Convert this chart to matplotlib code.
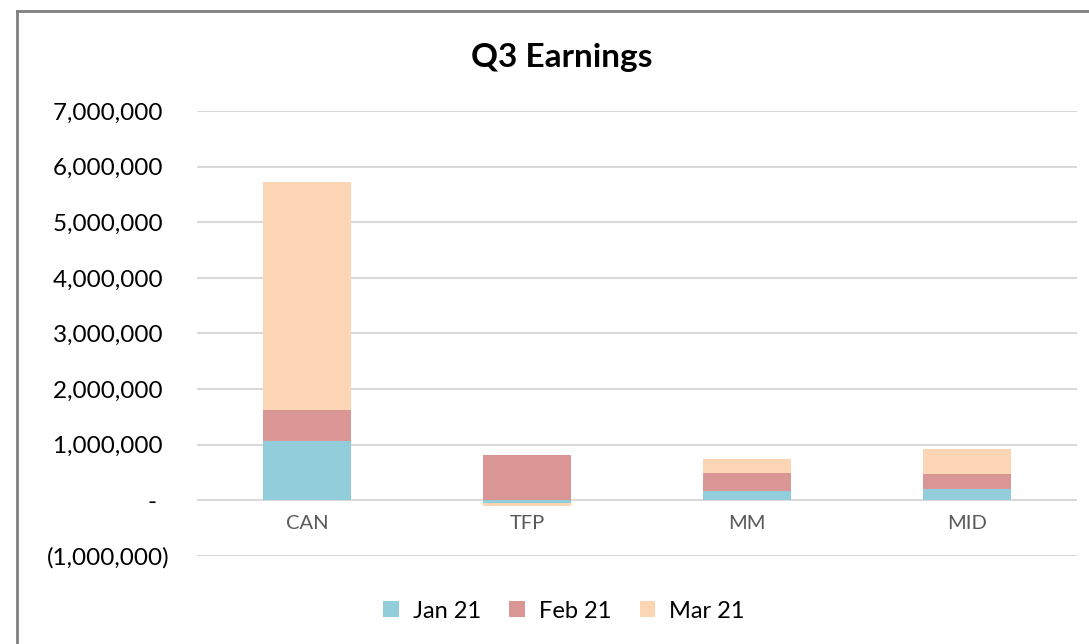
import numpy as np
import matplotlib
matplotlib.use("Agg")
import matplotlib.pyplot as plt
from matplotlib.lines import Line2D

plt.rcParams['font.family'] = ['Lato', 'DejaVu Sans']

categories = ["CAN", "TFP", "MM", "MID"]
series_names = ["Jan 21", "Feb 21", "Mar 21"]
jan = [1060000, -40000, 160000, 200000]
feb = [560000, 810000, 340000, 270000]
mar = [4100000, -70000, 250000, 450000]
colors = ["#92CDDC", "#DA9694", "#FCD5B4"]
yticks = [-1000000, 0, 1000000, 2000000, 3000000, 4000000, 5000000, 6000000, 7000000]


def fmt(v):
    # accounting style like the spreadsheet
    if v == 0:
        return "-  "
    if v < 0:
        return "(%s)" % format(-v, ",d")
    return format(v, ",d") + " "


fig = plt.figure(figsize=(10.89, 6.44), dpi=100)
ax = fig.add_axes([197 / 1089, 1 - 556 / 644, 880 / 1089, 445 / 644])

x = np.arange(len(categories))
pos_bottom = np.zeros(len(categories))
neg_bottom = np.zeros(len(categories))
for name, vals, c in zip(series_names, [jan, feb, mar], colors):
    vals = np.array(vals, dtype=float)
    bottom = np.where(vals >= 0, pos_bottom, neg_bottom)
    ax.bar(x, vals, 0.4, bottom=bottom, color=c, label=name, zorder=3)
    pos_bottom = pos_bottom + np.where(vals >= 0, vals, 0)
    neg_bottom = neg_bottom + np.where(vals < 0, vals, 0)

ax.set_xlim(-0.5, len(categories) - 0.5)
ax.set_ylim(-1000000, 7000000)
ax.set_yticks(yticks)
ax.set_yticklabels([fmt(v) for v in yticks], fontsize=17.5, color="black")
ax.yaxis.grid(True, color="#D9D9D9", linewidth=1.5, zorder=0)
ax.tick_params(axis="y", length=0, pad=20)
ax.tick_params(axis="x", length=0, pad=0)
for s in ax.spines.values():
    s.set_visible(False)

# category labels sit just below the zero line
ax.set_xticks([])
for xi, cat in zip(x, categories):
    ax.text(xi, -420000, cat, ha="center", va="center", fontsize=14.5, color="#595959")

fig.text(562 / 1089, 1 - 58 / 644, "Q3 Earnings", ha="center", va="center",
         fontsize=24, fontweight="bold")

handles, labels = ax.get_legend_handles_labels()
fig.legend(handles, labels, loc="center", bbox_to_anchor=(564 / 1089, 1 - 611 / 644),
           ncol=3, frameon=False, fontsize=17, handlelength=0.65, handleheight=0.65,
           columnspacing=1.2, handletextpad=0.6)

# chart area border (top and left edges visible)
fig.add_artist(Line2D([16.5 / 1089, 16.5 / 1089], [0, 1 - 10.5 / 644],
                      transform=fig.transFigure, color="#808080", linewidth=2))
fig.add_artist(Line2D([16.5 / 1089, 1], [1 - 10.5 / 644, 1 - 10.5 / 644],
                      transform=fig.transFigure, color="#808080", linewidth=2))

fig.savefig("out.png", dpi=100)
